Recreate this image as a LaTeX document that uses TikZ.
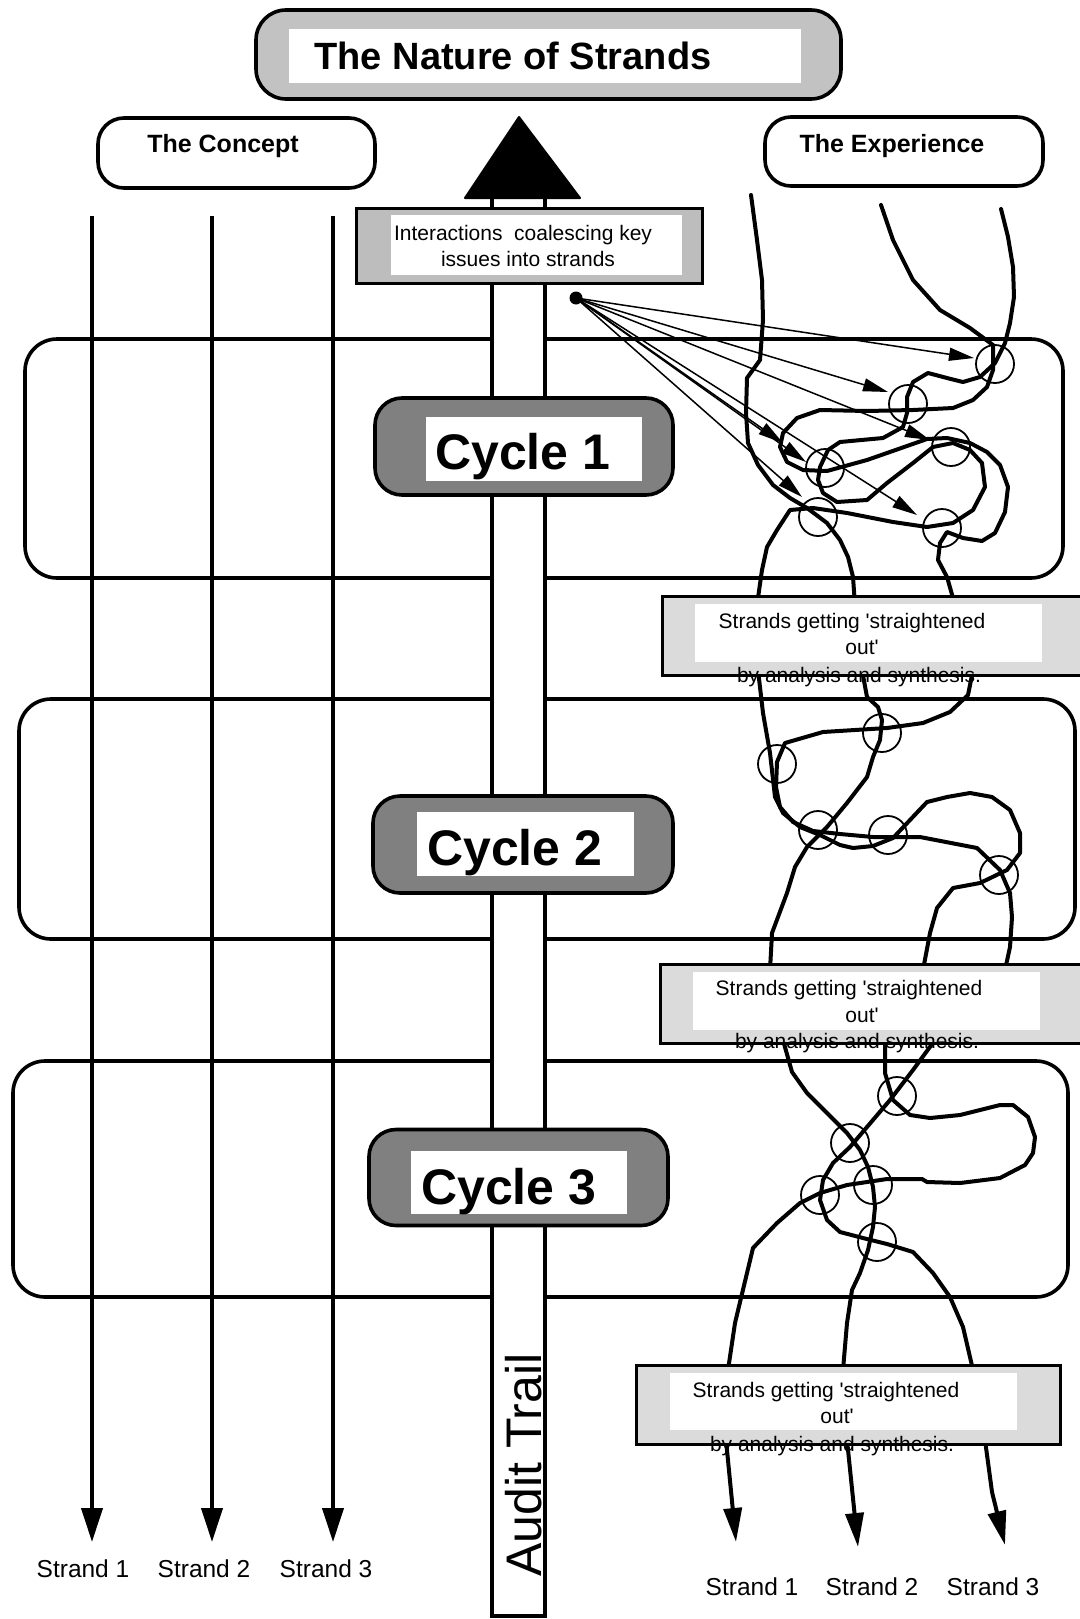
\documentclass[tikz,border=0pt]{standalone}
\usepackage{fontspec}
\setmainfont{Liberation Sans}[Ligatures=TeXOff]
\usetikzlibrary{arrows.meta}
\definecolor{titlegray}{gray}{0.76}
\definecolor{cyclegray}{gray}{0.50}
\definecolor{notegray}{gray}{0.86}
\definecolor{intgray}{gray}{0.74}
\begin{document}
\begin{tikzpicture}[x=1pt,y=-1pt,
  band/.style={draw, line width=3.6pt, rounded corners=32pt},
  conceptline/.style={line width=4pt, -{Triangle[length=34pt,width=21pt]}},
  strandline/.style={line width=4pt, line join=round, line cap=round},
  outarrow/.style={line width=4pt, line join=round, -{Triangle[length=34pt,width=18pt]}},
  pointer/.style={line width=1.5pt, -{Triangle[length=25pt,width=13pt]}},
  xing/.style={draw, circle, line width=1.8pt, minimum size=38pt, inner sep=0pt},
  headbox/.style={draw, line width=3.6pt, rounded corners=26pt, fill=white, inner sep=0pt},
  cyclebox/.style={draw, line width=3.6pt, rounded corners=27pt, fill=cyclegray, inner sep=0pt},
  notebox/.style={draw, line width=3pt, fill=notegray, inner sep=0pt, minimum width=424pt, minimum height=79pt},
  whitepad/.style={fill=white, draw=none, inner sep=0pt},
  txt/.style={inner sep=0pt, anchor=base},
  notetxt/.style={txt, font=\fontsize{21}{25}\selectfont},
  headtxt/.style={txt, font=\bfseries\fontsize{25}{30}\selectfont},
  cycletxt/.style={inner sep=0pt, anchor=base west, font=\bfseries\fontsize{50}{60}\selectfont},
  strandlbl/.style={txt, font=\fontsize{24.5}{29}\selectfont},
]
\useasboundingbox (0,0) rectangle (1079,1619);

% cycle bands
\draw[band] (25,339) rectangle (1063,578);
\draw[band] (19,699) rectangle (1075,939);
\draw[band] (13,1061) rectangle (1068,1297);

% concept strands
\coordinate (cs1) at (92,216);  \coordinate (ce1) at (92,1542);
\coordinate (cs2) at (212,216); \coordinate (ce2) at (212,1542);
\coordinate (cs3) at (333,216); \coordinate (ce3) at (333,1542);
\draw[conceptline] (cs1) -- (ce1);
\draw[conceptline] (cs2) -- (ce2);
\draw[conceptline] (cs3) -- (ce3);
\node[strandlbl] (cl1) at (83,1577) {Strand 1};
\node[strandlbl] (cl2) at (204,1577) {Strand 2};
\node[strandlbl] (cl3) at (326,1577) {Strand 3};

% audit trail bar
\node[draw, fill=white, line width=3.5pt, inner sep=0pt, minimum width=53pt, minimum height=1426pt] (bar) at (518.5,903) {};
\fill[draw, line width=2pt, line join=round] (519,117) -- (580,198) -- (465,198) -- cycle;
\node[rotate=90, inner sep=0pt, font=\fontsize{50}{60}\selectfont] (audit) at (523.5,1465) {Audit Trail};

% experience strands, cycle 1
\draw[strandline] (751,195) -- (757,240) -- (762,280) -- (763,320) -- (760,360) -- (747,378) -- (746,413) -- (748,443) -- (758,465) -- (773,485) -- (790,498) -- (807,508) -- (827,523) -- (840,540) -- (848,557) -- (853,577) -- (855,605);
\draw[strandline] (881,205) -- (893,240) -- (913,280) -- (940,310) -- (970,328) -- (993,345) -- (993,370) -- (987,387) -- (973,400) -- (953,408) -- (913,410) -- (867,411) -- (820,410) -- (797,418) -- (783,433) -- (780,447) -- (787,462) -- (803,470) -- (827,471) -- (867,460) -- (927,439) -- (947,438) -- (970,443) -- (987,452) -- (1000,465) -- (1008,487) -- (1005,512) -- (995,533) -- (982,541) -- (963,538) -- (947,532) -- (940,543) -- (938,560) -- (947,577) -- (955,605);
\draw[strandline] (1001,209) -- (1008,237) -- (1013,267) -- (1014,297) -- (1010,323) -- (1005,343) -- (995,363) -- (980,377) -- (963,382) -- (947,378) -- (928,373) -- (913,382) -- (907,397) -- (907,413) -- (903,427) -- (883,438) -- (840,442) -- (828,450) -- (820,467) -- (818,480) -- (823,493) -- (837,502) -- (867,500) -- (887,483) -- (913,463) -- (933,447) -- (953,443) -- (970,450) -- (982,463) -- (985,487) -- (973,510) -- (953,523) -- (927,527) -- (893,522) -- (847,513) -- (813,508) -- (790,510) -- (777,530) -- (767,547) -- (762,570) -- (757,605);

% cycle 2
\draw[strandline] (758,670) -- (763,713) -- (770,753) -- (775,797) -- (783,813) -- (800,827) -- (820,835) -- (840,845) -- (853,848) -- (873,846) -- (893,838) -- (910,820) -- (927,802) -- (947,797) -- (970,793) -- (992,797) -- (1010,810) -- (1020,833) -- (1020,853) -- (1007,870) -- (980,883) -- (953,888) -- (937,908) -- (930,933) -- (923,970);
\draw[strandline] (862,670) -- (867,697) -- (878,707) -- (882,720) -- (880,740) -- (873,757) -- (867,777) -- (847,803) -- (827,827) -- (807,847) -- (795,867) -- (787,893) -- (778,917) -- (772,933) -- (770,970);
\draw[strandline] (973,670) -- (968,695) -- (950,712) -- (923,723) -- (887,728) -- (823,732) -- (785,743) -- (777,762) -- (776,787) -- (780,807) -- (793,822) -- (813,831) -- (840,834) -- (873,837) -- (920,837) -- (977,848) -- (1000,870) -- (1010,893) -- (1012,917) -- (1010,947) -- (1005,970);

% cycle 3
\draw[strandline] (783,1040) -- (792,1072) -- (807,1093) -- (827,1113) -- (847,1133) -- (860,1150) -- (868,1167) -- (873,1187) -- (875,1207) -- (873,1227) -- (868,1250) -- (860,1273) -- (852,1290) -- (847,1323) -- (843,1370);
\draw[strandline] (885,1040) -- (885,1073) -- (893,1100) -- (910,1115) -- (930,1118) -- (960,1115) -- (1000,1105) -- (1013,1105) -- (1028,1117) -- (1035,1137) -- (1033,1153) -- (1025,1165) -- (1000,1178) -- (960,1183) -- (927,1182) -- (922,1179) -- (887,1179) -- (847,1185) -- (820,1193) -- (800,1203) -- (777,1223) -- (753,1248) -- (747,1273) -- (735,1323) -- (728,1370);
\draw[strandline] (935,1040) -- (913,1070) -- (890,1100) -- (867,1127) -- (850,1147) -- (833,1163) -- (823,1180) -- (820,1200) -- (827,1220) -- (840,1232) -- (863,1238) -- (887,1244) -- (913,1252) -- (933,1273) -- (950,1297) -- (963,1327) -- (973,1370);

% outgoing experience arrows
\coordinate (es1) at (726,1440); \coordinate (ee1) at (736,1542);
\coordinate (es2) at (847,1440); \coordinate (ee2) at (858,1547);
\coordinate (es3) at (985,1440); \coordinate (em3) at (992,1492); \coordinate (ee3) at (1005,1545);
\draw[outarrow] (es1) -- (ee1);
\draw[outarrow] (es2) -- (ee2);
\draw[outarrow] (es3) -- (em3) -- (ee3);
\node[strandlbl] (el1) at (752,1595) {Strand 1};
\node[strandlbl] (el2) at (872,1595) {Strand 2};
\node[strandlbl] (el3) at (993,1595) {Strand 3};

% note boxes
\node[notebox] (noteA) at (874,635.5) {};
\node[whitepad, minimum width=347pt, minimum height=58pt] (padA) at (868.5,633) {};
\node[notetxt] (nA1) at (852,628) {Strands getting 'straightened};
\node[notetxt] (nA2) at (862,654) {out'};
\node[notetxt] (nA3) at (859,682) {by analysis and synthesis.};

\node[notebox] (noteB) at (872,1003.5) {};
\node[whitepad, minimum width=347pt, minimum height=58pt] (padB) at (866.5,1001) {};
\node[notetxt] (nB1) at (849,995) {Strands getting 'straightened};
\node[notetxt] (nB2) at (862,1022) {out'};
\node[notetxt] (nB3) at (857,1048) {by analysis and synthesis.};

\node[notebox] (noteC) at (848,1405) {};
\node[whitepad, minimum width=347pt, minimum height=57pt] (padC) at (843.5,1401.5) {};
\node[notetxt] (nC1) at (826,1397) {Strands getting 'straightened};
\node[notetxt] (nC2) at (837,1423) {out'};
\node[notetxt] (nC3) at (832,1451) {by analysis and synthesis.};

% interactions box
\node[draw, line width=3pt, fill=intgray, inner sep=0pt, minimum width=346pt, minimum height=75pt] (ibox) at (529,245.5) {};
\node[whitepad, minimum width=291pt, minimum height=60pt] (ipad) at (536.5,245) {};
\node[notetxt] (it1) at (523,240) {Interactions\ \ coalescing key};
\node[notetxt] (it2) at (528,266) {issues into strands};

% cycle boxes
\node[cyclebox, minimum width=298pt, minimum height=97pt] (cyc1) at (524,446.5) {};
\node[whitepad, minimum width=216pt, minimum height=64pt] (cpad1) at (534,449) {};
\node[cycletxt] (ct1) at (435,469) {Cycle 1};
\node[cyclebox, minimum width=300pt, minimum height=97pt] (cyc2) at (523,844.5) {};
\node[whitepad, minimum width=217pt, minimum height=64pt] (cpad2) at (525.5,844) {};
\node[cycletxt] (ct2) at (427,865) {Cycle 2};
\node[cyclebox, minimum width=299pt, minimum height=96pt] (cyc3) at (518.5,1177.5) {};
\node[whitepad, minimum width=216pt, minimum height=63pt] (cpad3) at (519,1182.5) {};
\node[cycletxt] (ct3) at (421,1204) {Cycle 3};

% title and headers
\node[draw, line width=3.6pt, rounded corners=30pt, fill=titlegray, inner sep=0pt, minimum width=585pt, minimum height=89pt] (title) at (548.5,54.5) {};
\node[whitepad, minimum width=512pt, minimum height=54pt] (tpad) at (545,56) {};
\node[txt, font=\bfseries\fontsize{38}{44}\selectfont] (ttxt) at (513,70) {The Nature of Strands};

\node[headbox, minimum width=277pt, minimum height=70pt] (concept) at (236.5,153) {};
\node[headtxt] (concepttxt) at (223,152) {The Concept};
\node[headbox, minimum width=278pt, minimum height=69pt] (experience) at (904,151.5) {};
\node[headtxt] (exptxt) at (892,152) {The Experience};

% pointers from the dot
\coordinate (dot) at (576,298);
\coordinate (p1) at (974,358);
\coordinate (p2) at (888,392);
\coordinate (p3) at (930,440);
\coordinate (p4) at (783,443);
\coordinate (p5) at (806,462);
\coordinate (p6) at (802,497);
\coordinate (p7) at (917,515);
\foreach \p in {p1,p2,p3,p4,p5,p6,p7} \draw[pointer] (dot) -- (\p);
\fill (dot) circle (6.5pt);

% crossings
\foreach \x/\y [count=\i] in {995/364, 908/404, 951/447, 825/468, 818/517, 942/528,
  777/764, 882/733, 818/830, 888/835, 999/875,
  897/1096, 850/1143, 820/1195, 873/1185, 877/1242}
  \node[xing] (x\i) at (\x,\y) {};
\end{tikzpicture}
\end{document}
